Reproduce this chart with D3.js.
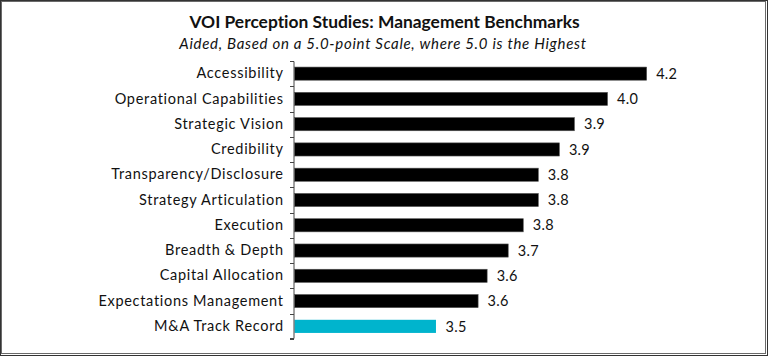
<!DOCTYPE html>
<html>
<head>
<meta charset="utf-8">
<script src="https://cdn.jsdelivr.net/npm/d3@7"></script>
<style>
  html, body { margin: 0; padding: 0; background: #fff; }
  svg { display: block; }
  text { font-family: Lato, "Open Sans", sans-serif; fill: #111; font-variant-ligatures: none; }
</style>
</head>
<body>
<svg id="chart" width="768" height="356"></svg>
<script>
const categories = [
  "Accessibility", "Operational Capabilities", "Strategic Vision", "Credibility",
  "Transparency/Disclosure", "Strategy Articulation", "Execution", "Breadth & Depth",
  "Capital Allocation", "Expectations Management", "M&A Track Record"
];
const values = [4.17, 4.04, 3.93, 3.88, 3.81, 3.81, 3.76, 3.71, 3.64, 3.61, 3.47];
const highlighted = ["M&A Track Record"];
const titleText = "VOI Perception Studies: Management Benchmarks";
const subtitleText = "Aided, Based on a 5.0-point Scale, where 5.0 is the Highest";

const W = 768, H = 356;
const svg = d3.select("#chart");

// border
svg.append("rect").attr("x", 0.5).attr("y", 0.5).attr("width", W - 1).attr("height", H - 1)
  .attr("fill", "none").attr("stroke", "#333").attr("stroke-width", 1);
svg.append("rect").attr("x", 1.5).attr("y", 1.5).attr("width", W - 4).attr("height", H - 4)
  .attr("fill", "none").attr("stroke", "#6a6a6a").attr("stroke-width", 1);

svg.append("text").attr("x", 384.5).attr("y", 28).attr("text-anchor", "middle")
  .style("font-size", "17.4px").style("font-weight", "bold").text(titleText);
svg.append("text").attr("x", 383).attr("y", 49).attr("text-anchor", "middle")
  .style("font-size", "15px").style("font-style", "italic").style("letter-spacing", "0.7px")
  .text(subtitleText);

const x0 = 294;
const x = d3.scaleLinear().domain([3, 5]).range([x0, x0 + 602]);
const y = d3.scaleBand().domain(categories).range([61, 339]).paddingInner(0.48).paddingOuter(0.24);

const g = svg.append("g");
g.selectAll("rect.bar").data(categories).join("rect")
  .attr("class", "bar")
  .attr("x", x(3) + 0.5)
  .attr("y", d => y(d))
  .attr("width", (d, i) => x(values[i]) - x(3))
  .attr("height", y.bandwidth())
  .attr("fill", d => highlighted.includes(d) ? "#00b4cd" : "#000")
  .attr("stroke", d => highlighted.includes(d) ? "none" : "#555")
  .attr("stroke-width", 0.6);

g.selectAll("text.val").data(categories).join("text")
  .attr("class", "val")
  .attr("x", (d, i) => x(values[i]) + 10)
  .attr("y", d => y(d) + y.bandwidth() / 2)
  .attr("dy", "0.36em")
  .style("font-size", "14.5px")
  .style("letter-spacing", "0.3px")
  .text((d, i) => values[i].toFixed(1));

// category axis
const axis = d3.axisLeft(y).tickSize(0).tickPadding(10.3);
const ag = svg.append("g").attr("transform", `translate(${x0},0)`).call(axis);
ag.select(".domain").attr("stroke", "#444").attr("d", "M-4,61.5H0V338.5H-4");
ag.selectAll("text").style("font-size", "14.5px").style("font-family", "Lato, sans-serif")
  .style("letter-spacing", "0.7px").attr("fill", "#111");
// boundary tick marks
const bounds = d3.range(categories.length + 1).map(i => 61 + i * (278 / categories.length));
ag.selectAll("line.b").data(bounds).join("line").attr("class", "b")
  .attr("x1", -4).attr("x2", 0).attr("y1", d => Math.round(d) + 0.5).attr("y2", d => Math.round(d) + 0.5)
  .attr("stroke", "#444");
</script>
</body>
</html>
